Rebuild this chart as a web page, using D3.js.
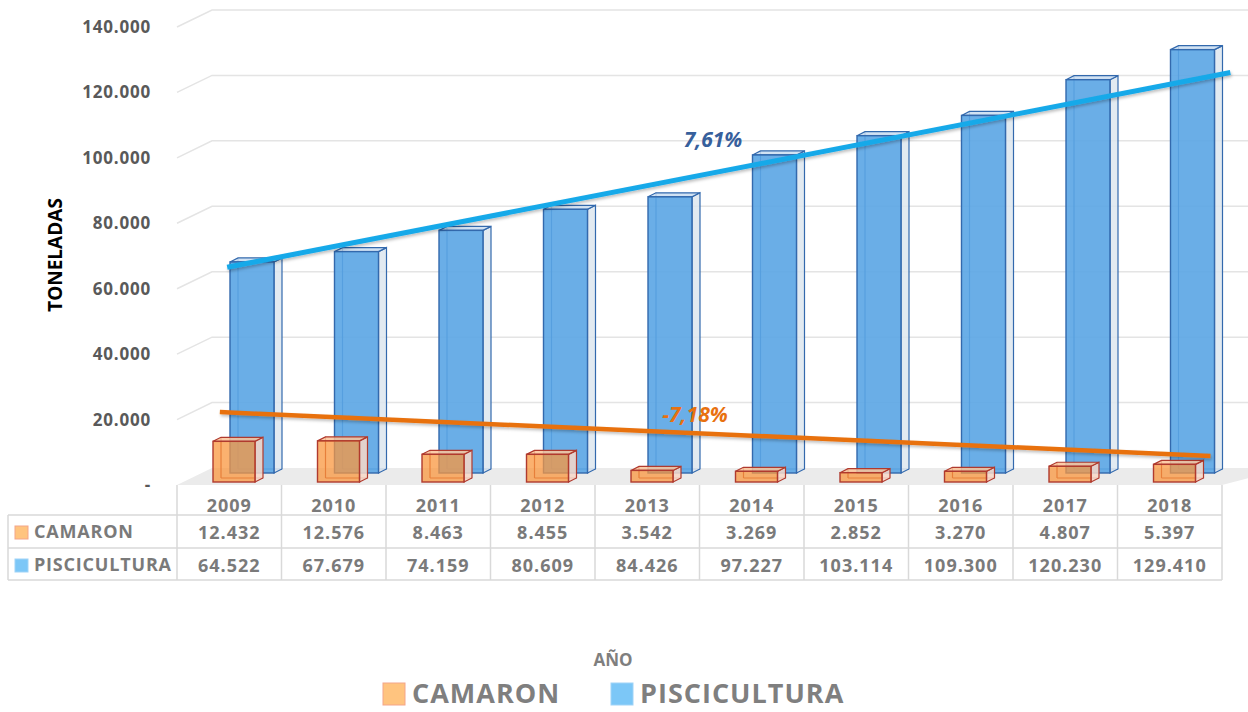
<!DOCTYPE html>
<html lang="es">
<head>
    <meta charset="utf-8">
    <title>Camaron y Piscicultura</title>
    <script src="https://d3js.org/d3.v7.min.js"></script>
    <style type="text/css">
        body{ margin: 0; background: #fff; }
        svg{ display: block; font-family: "Open Sans", sans-serif; }
    </style>
</head>
<body>
    <div id="frame"></div>
    <script type="text/javascript">

        // datos
        const years = ["2009", "2010", "2011", "2012", "2013", "2014", "2015", "2016", "2017", "2018"];
        const camaron = [12432, 12576, 8463, 8455, 3542, 3269, 2852, 3270, 4807, 5397];
        const piscicultura = [64522, 67679, 74159, 80609, 84426, 97227, 103114, 109300, 120230, 129410];
        const seriesNames = ["CAMARON", "PISCICULTURA"];
        const yTicks = [0, 20000, 40000, 60000, 80000, 100000, 120000, 140000];
        const trendRates = [-0.0718, 0.0761];
        // lineas de tendencia (indice de año, toneladas) estimadas del dibujo
        const camTrend = [[-0.09, 21370], [9.39, 7940]];
        const piscTrend = [[-0.02, 62900], [9.58, 122440]];

        const W = 1248, H = 712;
        const floorY = 485, depthX = 35, depthY = -17;

        const loc = d3.formatLocale({decimal: ",", thousands: ".", grouping: [3], currency: ["", ""], minus: "-"});
        const fmt = loc.format(",d");
        const pct = loc.format(".2%");

        const svg = d3.select("#frame").append("svg")
            .attr("width", W)
            .attr("height", H);

        const defs = svg.append("defs");
        const f = defs.append("filter").attr("id", "shadow")
            .attr("x", "-5%").attr("y", "-50%").attr("width", "110%").attr("height", "200%");
        f.append("feDropShadow").attr("dx", 1).attr("dy", 2).attr("stdDeviation", 1.5)
            .attr("flood-color", "#000").attr("flood-opacity", 0.25);

        const x = d3.scaleBand().domain(years).range([177, 1222]);
        const bw = x.bandwidth();
        const hgt = d3.scaleLinear().domain([0, 140000]).range([0, 458]);
        const y = v => floorY - hgt(v);
        const xi = d3.scaleLinear().domain([0, 9]).range([x(years[0]) + bw / 2, x(years[9]) + bw / 2]);

        // pared de fondo: lineas de cuadricula
        const grid = svg.append("g");
        grid.selectAll("path")
            .data(yTicks.slice(1))
            .enter()
            .append("path")
            .attr("d", d => `M177,${y(d)}L${177 + depthX},${y(d) + depthY}H${W + 10}`)
            .attr("fill", "none")
            .attr("stroke", "#e4e4e4")
            .attr("stroke-width", 1.5);

        // piso
        svg.append("path")
            .attr("d", `M177,${floorY}L${177 + depthX},${floorY + depthY}H${W + 40}L1222,${floorY}Z`)
            .attr("fill", "#ebebeb");

        // etiquetas del eje
        svg.append("g").selectAll("text")
            .data(yTicks)
            .enter()
            .append("text")
            .attr("x", 151)
            .attr("y", d => y(d) + 6)
            .attr("text-anchor", "end")
            .attr("font-size", 17)
            .attr("font-weight", "bold")
            .attr("letter-spacing", 0.8)
            .attr("fill", "#595959")
            .text(d => d === 0 ? "-" : fmt(d));

        svg.append("text")
            .attr("transform", "translate(62,255) rotate(-90)")
            .attr("text-anchor", "middle")
            .attr("font-size", 19)
            .attr("font-weight", "bold")
            .attr("fill", "#000")
            .text("TONELADAS");

        // barras 3D
        function cube(g, x0, base, w, hh, st) {
            const dx = 8, dy = -4, top = base - hh;
            g.append("path")
                .attr("d", `M${x0 + dx},${base + dy}V${top + dy}M${x0 + dx},${base + dy}H${x0 + w + dx}`)
                .attr("stroke", st.stroke).attr("stroke-width", 1.2).attr("fill", "none");
            g.append("path")
                .attr("d", `M${x0 + w},${base}L${x0 + w + dx},${base + dy}V${top + dy}L${x0 + w},${top}Z`)
                .attr("fill", st.side).attr("fill-opacity", 0.85)
                .attr("stroke", st.stroke).attr("stroke-width", 1.2);
            g.append("path")
                .attr("d", `M${x0},${top}L${x0 + dx},${top + dy}H${x0 + w + dx}L${x0 + w},${top}Z`)
                .attr("fill", st.top).attr("fill-opacity", 0.85)
                .attr("stroke", st.stroke).attr("stroke-width", 1.2);
            g.append("rect")
                .attr("x", x0).attr("y", top).attr("width", w).attr("height", hh)
                .attr("fill", st.front).attr("fill-opacity", st.op)
                .attr("stroke", st.stroke).attr("stroke-width", 1.4);
        }

        const blueStyle = {front: "#5aa5e4", side: "#dde6ef", top: "#c9ddf1", stroke: "#3369ad", op: 0.9};
        const orangeStyle = {front: "#f9973f", side: "#f8d8c8", top: "#fbc49a", stroke: "#b03a2e", op: 0.75};

        const gBlue = svg.append("g");
        piscicultura.forEach((v, i) => cube(gBlue, x(years[i]) + 53, floorY - 12, 44, hgt(v), blueStyle));
        const gOrange = svg.append("g");
        camaron.forEach((v, i) => cube(gOrange, x(years[i]) + 36, floorY - 3, 42, hgt(v), orangeStyle));

        // tendencias
        const line = base => d3.line().x(d => xi(d[0])).y(d => base - hgt(d[1]));
        svg.append("path")
            .attr("d", line(floorY - 12)(piscTrend))
            .attr("stroke", "#17a9e9").attr("stroke-width", 5).attr("fill", "none")
            .attr("filter", "url(#shadow)");
        svg.append("path")
            .attr("d", line(floorY - 3)(camTrend))
            .attr("stroke", "#e8710f").attr("stroke-width", 4.5).attr("fill", "none")
            .attr("filter", "url(#shadow)");

        svg.append("text")
            .attr("x", 713).attr("y", 147)
            .attr("text-anchor", "middle")
            .attr("font-size", 21).attr("font-weight", "bold").attr("font-style", "italic")
            .attr("fill", "#37609c")
            .text(pct(trendRates[1]));
        svg.append("text")
            .attr("x", 695).attr("y", 422)
            .attr("text-anchor", "middle")
            .attr("font-size", 21).attr("font-weight", "bold").attr("font-style", "italic")
            .attr("fill", "#e8710f")
            .text(pct(trendRates[0]));

        // tabla de datos
        const tbl = svg.append("g").attr("stroke", "#d9d9d9").attr("stroke-width", 1.5);
        const rowY = [485, 515, 548, 580];
        tbl.selectAll("line.v")
            .data(years.map(d => x(d)).concat([x(years[9]) + bw]))
            .enter()
            .append("line")
            .attr("x1", d => d).attr("x2", d => d)
            .attr("y1", rowY[0]).attr("y2", rowY[3]);
        tbl.selectAll("line.h")
            .data(rowY.slice(1))
            .enter()
            .append("line")
            .attr("x1", 8).attr("x2", x(years[9]) + bw)
            .attr("y1", d => d).attr("y2", d => d);
        tbl.append("line").attr("x1", 8).attr("x2", 8).attr("y1", rowY[1]).attr("y2", rowY[3]);

        const cellText = (sel, size) => sel
            .attr("font-size", size).attr("font-weight", "bold")
            .attr("letter-spacing", 1).attr("fill", "#7a7a7a");

        svg.append("g").selectAll("text")
            .data(years)
            .enter()
            .append("text")
            .attr("x", d => x(d) + bw / 2)
            .attr("y", 512)
            .attr("text-anchor", "middle")
            .call(cellText, 18)
            .text(d => d);

        const rows = [camaron, piscicultura];
        const swatch = [{fill: "#ffc47f", stroke: "#f4a58a"}, {fill: "#7cc7f7", stroke: "#9fd3f7"}];
        rows.forEach((vals, r) => {
            const ty = rowY[r + 1] + 24;
            svg.append("g").selectAll("text")
                .data(vals)
                .enter()
                .append("text")
                .attr("x", (d, i) => x(years[i]) + bw / 2)
                .attr("y", ty)
                .attr("text-anchor", "middle")
                .call(cellText, 18)
                .text(d => fmt(d));
            svg.append("rect")
                .attr("x", 15).attr("y", ty - 13).attr("width", 13).attr("height", 13)
                .attr("fill", swatch[r].fill).attr("stroke", swatch[r].stroke);
            svg.append("text")
                .attr("x", 34).attr("y", ty - 1)
                .call(cellText, 18)
                .attr("letter-spacing", 0.8)
                .text(seriesNames[r]);
        });

        // titulo del eje X y leyenda
        svg.append("text")
            .attr("x", 613).attr("y", 666)
            .attr("text-anchor", "middle")
            .attr("font-size", 17).attr("font-weight", "bold")
            .attr("fill", "#7f7f7f")
            .text("AÑO");

        const legX = [383, 611];
        const leg = svg.append("g").selectAll("g")
            .data(seriesNames)
            .enter()
            .append("g")
            .attr("transform", (d, i) => `translate(${legX[i]},683)`);
        leg.append("rect")
            .attr("width", 22).attr("height", 22)
            .attr("fill", (d, i) => swatch[i].fill)
            .attr("stroke", (d, i) => swatch[i].stroke);
        leg.append("text")
            .attr("x", 29).attr("y", 20)
            .attr("font-size", 27).attr("font-weight", "bold")
            .attr("letter-spacing", 1)
            .attr("fill", "#7f7f7f")
            .text(d => d);

    </script>
</body>
</html>
